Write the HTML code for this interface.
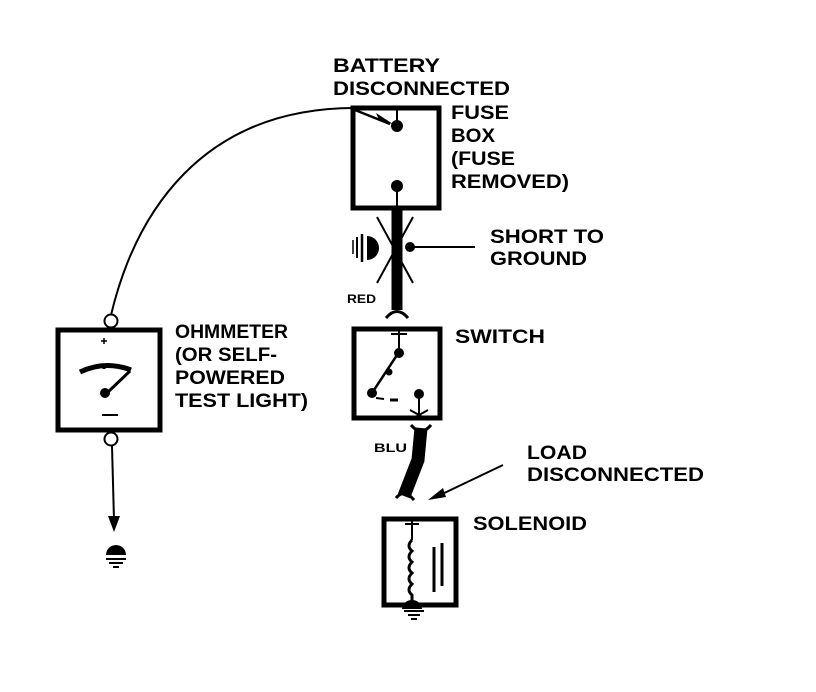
<!DOCTYPE html>
<html><head><style>html,body{margin:0;padding:0;background:#fff;}svg{display:block}
text{font-family:"Liberation Sans",sans-serif;font-weight:bold;fill:#000}</style></head>
<body>
<svg width="816" height="692" viewBox="0 0 816 692" xmlns="http://www.w3.org/2000/svg">
<g font-size="19">
<text x="333" y="72" textLength="107" lengthAdjust="spacingAndGlyphs">BATTERY</text>
<text x="333" y="95" textLength="177" lengthAdjust="spacingAndGlyphs">DISCONNECTED</text>
<text x="451" y="119" textLength="58" lengthAdjust="spacingAndGlyphs">FUSE</text>
<text x="451" y="142" textLength="44" lengthAdjust="spacingAndGlyphs">BOX</text>
<text x="451" y="165" textLength="64" lengthAdjust="spacingAndGlyphs">(FUSE</text>
<text x="451" y="188" textLength="118" lengthAdjust="spacingAndGlyphs">REMOVED)</text>
<text x="490" y="243" textLength="114" lengthAdjust="spacingAndGlyphs">SHORT TO</text>
<text x="490" y="265" textLength="97" lengthAdjust="spacingAndGlyphs">GROUND</text>
<text x="455" y="343" textLength="90" lengthAdjust="spacingAndGlyphs">SWITCH</text>
<text x="175" y="338" textLength="113" lengthAdjust="spacingAndGlyphs">OHMMETER</text>
<text x="175" y="361" textLength="102" lengthAdjust="spacingAndGlyphs">(OR SELF-</text>
<text x="175" y="384" textLength="110" lengthAdjust="spacingAndGlyphs">POWERED</text>
<text x="175" y="407" textLength="133" lengthAdjust="spacingAndGlyphs">TEST LIGHT)</text>
<text x="527" y="459" textLength="60" lengthAdjust="spacingAndGlyphs">LOAD</text>
<text x="527" y="481" textLength="177" lengthAdjust="spacingAndGlyphs">DISCONNECTED</text>
<text x="473" y="530" textLength="114" lengthAdjust="spacingAndGlyphs">SOLENOID</text>
</g>
<text x="347" y="303" font-size="12" textLength="29" lengthAdjust="spacingAndGlyphs">RED</text>
<text x="374" y="452" font-size="12" textLength="33" lengthAdjust="spacingAndGlyphs">BLU</text>

<g fill="none" stroke="#000">
<path d="M111,315 C135,215 200,108 355,108" stroke-width="2"/>
<rect x="353" y="108" width="86" height="100" stroke-width="5"/>
<line x1="355" y1="110" x2="390" y2="124" stroke-width="2.5"/>
<line x1="397" y1="108" x2="397" y2="126" stroke-width="2"/>
<line x1="397" y1="186" x2="397" y2="208" stroke-width="2"/>
<line x1="397" y1="208" x2="397" y2="310" stroke-width="11"/>
<path d="M386,318 Q397,305 408,318" stroke-width="3"/>
<line x1="377" y1="217" x2="413" y2="283" stroke-width="2"/>
<line x1="413" y1="217" x2="377" y2="283" stroke-width="2"/>
<line x1="410" y1="247" x2="475" y2="247" stroke-width="2"/>
<line x1="353" y1="240" x2="353" y2="254" stroke-width="1.5"/>
<line x1="357" y1="237" x2="357" y2="258" stroke-width="2"/>
<line x1="362" y1="234" x2="362" y2="262" stroke-width="2.5"/>
<rect x="354" y="329" width="86" height="89" stroke-width="5"/>
<line x1="399" y1="331" x2="399" y2="352" stroke-width="2"/>
<line x1="391" y1="334" x2="407" y2="334" stroke-width="2"/>
<line x1="399" y1="352" x2="372" y2="393" stroke-width="2.5"/>
<line x1="376" y1="398" x2="384" y2="399" stroke-width="2"/>
<line x1="390" y1="400" x2="398" y2="400" stroke-width="3"/>
<line x1="419" y1="396" x2="419" y2="418" stroke-width="2"/>
<line x1="410" y1="410" x2="428" y2="420" stroke-width="2"/>
<line x1="428" y1="410" x2="410" y2="420" stroke-width="2"/>
<path d="M421,428 L418,460 L404,496" stroke-width="13"/>
<path d="M411,425 Q421,437 431,425" stroke-width="3"/>
<path d="M396,498 Q404,488 414,500" stroke-width="3"/>
<line x1="503" y1="465" x2="438" y2="496" stroke-width="2"/>
<rect x="384" y="519" width="72" height="86" stroke-width="5"/>
<line x1="412" y1="521" x2="412" y2="540" stroke-width="2"/>
<line x1="405" y1="524" x2="419" y2="524" stroke-width="2"/>
<path d="M412,540 q-6,6 0,11 q-6,6 0,11 q-6,6 0,11 q-6,6 0,11 q-6,6 0,11 L412,600" stroke-width="3"/>
<line x1="434" y1="547" x2="434" y2="592" stroke-width="3"/>
<line x1="442" y1="543" x2="442" y2="586" stroke-width="3"/>
<line x1="404" y1="611" x2="424" y2="611" stroke-width="2"/>
<line x1="408" y1="615" x2="420" y2="615" stroke-width="2"/>
<line x1="411" y1="619" x2="417" y2="619" stroke-width="2"/>
<rect x="58" y="330" width="102" height="100" stroke-width="5"/>
<circle cx="111" cy="321" r="6.5" stroke-width="2"/>
<circle cx="111" cy="439" r="6.5" stroke-width="2"/>
<path d="M80,372 Q105,360 131,370" stroke-width="5"/>
<line x1="130" y1="371" x2="108" y2="392" stroke-width="3"/>
<line x1="104" y1="369" x2="104" y2="364" stroke-width="3"/>
<line x1="101" y1="341" x2="107" y2="341" stroke-width="1.5"/>
<line x1="104" y1="338" x2="104" y2="344" stroke-width="1.5"/>
<line x1="102" y1="415" x2="118" y2="415" stroke-width="2"/>
<line x1="112" y1="446" x2="114" y2="520" stroke-width="2"/>
<line x1="106" y1="559" x2="126" y2="559" stroke-width="2"/>
<line x1="109" y1="563" x2="123" y2="563" stroke-width="2"/>
<line x1="113" y1="567" x2="119" y2="567" stroke-width="2"/>
</g>
<g fill="#000">
<circle cx="397" cy="126" r="6"/>
<circle cx="397" cy="186" r="6"/>
<polygon points="393,124 376,113 379,120"/>
<circle cx="410" cy="247" r="5"/>
<path d="M367,236 A12,12 0 0 1 367,260 Z"/>
<circle cx="399" cy="353" r="5"/>
<circle cx="389" cy="372" r="3.5"/>
<circle cx="372" cy="393" r="5"/>
<circle cx="419" cy="394" r="5"/>
<polygon points="428,500 443,488 446,497"/>
<path d="M402,609 A10,9 0 0 1 422,609 Z"/>
<circle cx="105" cy="393" r="5"/>
<polygon points="108,516 120,516 114,532"/>
<path d="M106,555 A10,10 0 1 1 126,555 Z"/>
</g>
</svg>
</body></html>
